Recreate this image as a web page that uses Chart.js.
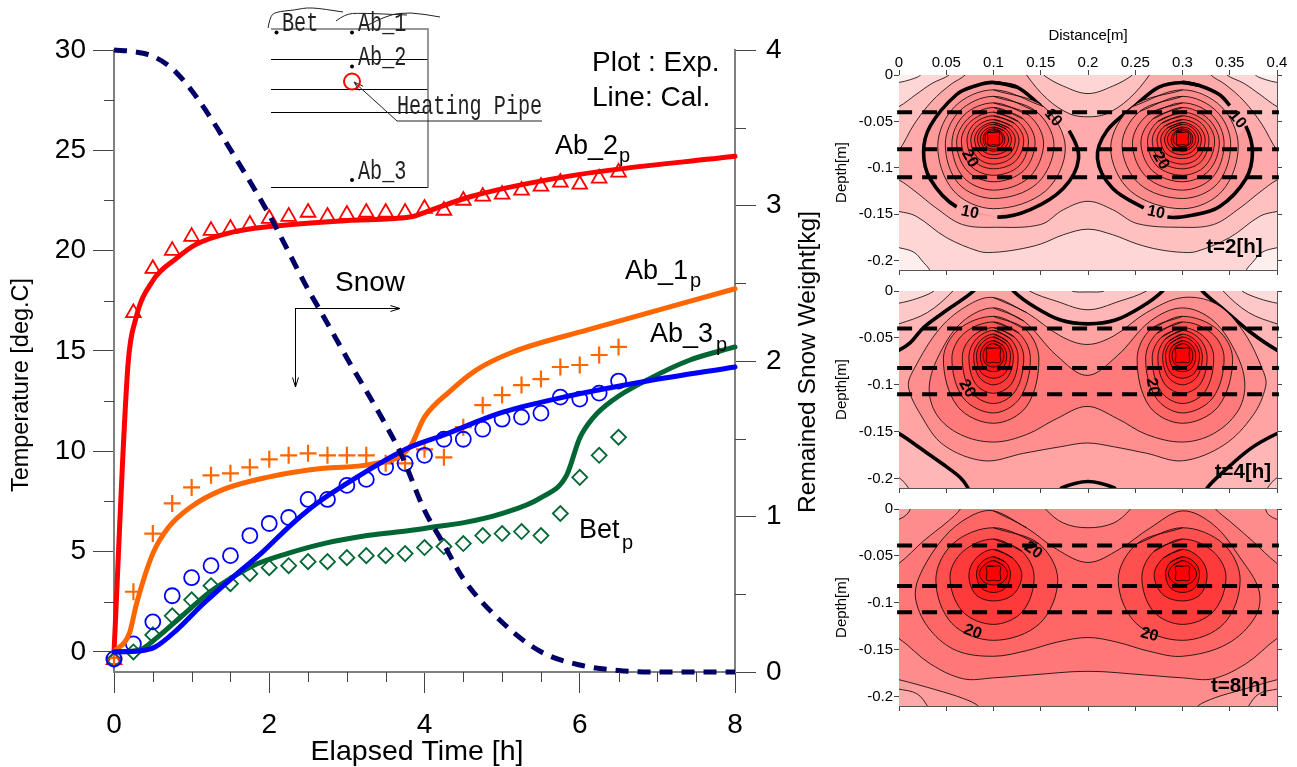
<!DOCTYPE html>
<html>
<head>
<meta charset="utf-8">
<script src="https://cdn.jsdelivr.net/npm/chart.js@4/dist/chart.umd.js"></script>
<style>
html, body { margin: 0; background: #fff; overflow: hidden; }
canvas { position: absolute; }
</style>
</head>
<body>
<canvas id="main" width="830" height="767" style="left:0;top:0"></canvas>
<canvas id="t2" width="467" height="260" style="left:830px;top:20px"></canvas>
<canvas id="t4" width="467" height="217" style="left:830px;top:281px"></canvas>
<canvas id="t8" width="467" height="217" style="left:830px;top:499px"></canvas>
<script>
// left chart
const expHours = [0, .25, .5, .75, 1, 1.25, 1.5, 1.75, 2, 2.25, 2.5, 2.75, 3, 3.25, 3.5, 3.75, 4, 4.25, 4.5, 4.75, 5, 5.25, 5.5, 5.75, 6, 6.25, 6.5];
const ab2Exp = [-.4, 16.9, 19.1, 20, 20.7, 21, 21.1, 21.3, 21.6, 21.7, 21.9, 21.7, 21.8, 21.9, 21.9, 21.9, 22.1, 22, 22.5, 22.7, 22.8, 23, 23.2, 23.4, 23.3, 23.6, 23.9];
const ab1Exp = [-.3, 3, 5.9, 7.4, 8.2, 8.8, 8.9, 9.2, 9.6, 9.8, 9.9, 9.8, 9.8, 9.8, 9.4, 9.4, 10.1, 9.7, 11.2, 12.3, 12.8, 13.3, 13.6, 14.2, 14.3, 14.8, 15.2];
const ab3Exp = [-.35, .4, 1.5, 2.8, 3.7, 4.3, 4.8, 5.8, 6.4, 6.7, 7.6, 7.6, 8.3, 8.6, 9.2, 9.4, 9.8, 10.6, 10.6, 11.1, 11.6, 11.7, 11.9, 12.7, 12.6, 12.9, 13.5];
const betExp = [-.4, 0, .85, 1.8, 2.6, 3.3, 3.4, 3.9, 4.2, 4.3, 4.5, 4.5, 4.7, 4.8, 4.8, 4.9, 5.2, 5.25, 5.4, 5.8, 5.9, 6, 5.8, 6.9, 8.7, 9.8, 10.7];

const ab2CalHours = [0, .18, .28, .5, .8, 1.05, 1.5, 2, 3, 3.85, 4, 4.6, 6, 8];
const ab2Cal = [0, 14.3, 16.6, 18.5, 19.6, 20.3, 20.9, 21.2, 21.5, 21.7, 21.9, 22.7, 23.8, 24.7];
const ab1CalHours = [0, .2, .29, .5, .7, .98, 1.41, 1.97, 2.7, 3.34, 3.81, 4, 4.33, 4.67, 5.14, 6.1, 8];
const ab1Cal = [0, .95, 2.4, 4.9, 6.2, 7.2, 8.1, 8.7, 9.15, 9.37, 10.2, 11.7, 13, 14.06, 14.95, 16.05, 18.1];
const ab3CalHours = [0, .33, .53, .81, 1.15, 1.54, 1.92, 2.27, 2.61, 3, 3.47, 3.81, 4.24, 4.97, 5.75, 6.87, 8];
const ab3Cal = [0, .05, .25, 1.1, 2.4, 3.75, 5, 6.3, 7.4, 8.4, 9.5, 10.2, 10.8, 11.9, 12.66, 13.5, 14.2];
const betCalHours = [0, .33, .55, .89, 1.24, 1.54, 1.79, 2.23, 2.7, 3.26, 3.81, 4.16, 4.54, 4.97, 5.49, 5.83, 6, 6.17, 6.43, 6.87, 7.42, 8];
const betCal = [0, .1, .7, 1.84, 3, 3.75, 4.3, 4.9, 5.4, 5.8, 6.05, 6.25, 6.47, 6.87, 7.67, 8.8, 10.66, 11.66, 12.56, 13.56, 14.55, 15.2];
const snowHours = [0, .25, .5, .75, 1, 1.25, 1.5, 2, 2.5, 2.65, 3, 3.5, 3.7, 4, 4.25, 4.5, 5, 5.5, 6, 6.5, 7, 8];
const snowKg = [4, 3.99, 3.96, 3.88, 3.74, 3.56, 3.36, 2.94, 2.46, 2.33, 2.02, 1.59, 1.4, 1.04, .82, .6, .32, .13, .045, .01, 0, 0];

const hourTicks = [0, 2, 4, 6, 8];
const hourMinor = [.5, 1, 1.5, 2.5, 3, 3.5, 4.5, 5, 5.5, 6.5, 7, 7.5];
const tempTicks = [0, 5, 10, 15, 20, 25, 30];
const tempMinor = [2.5, 7.5, 12.5, 17.5, 22.5, 27.5];
const kgTicks = [0, 1, 2, 3, 4];
const kgMinor = [.5, 1.5, 2.5, 3.5];

// contour plots: every contour is a flat list x, depth, x, depth ... in mm
const distanceTicks = [0, .05, .1, .15, .2, .25, .3, .35, .4];
const depthTicks = [0, -.05, -.1, -.15, -.2];
const sensorDepths = [[.04, .08, .11], [.04, .082, .11], [.039, .082, .11]];

const t2Bands = [
  [[-5,186, 0,186, 16,191, 26,202, 32,209, 34,215, 366,215, 368,209, 374,202, 384,191, 400,186, 405,186, 405,8, 400,8, 388,5, 377,0, 377,-5, 23,-5, 23,0, 12,5, 0,8, -5,8]],
  [[-5,147, 0,147, 18,152, 50,175, 85,190, 100,191, 125,188, 150,182, 174,172, 200,166, 226,172, 252,182, 275,188, 300,191, 315,190, 350,175, 382,152, 400,147, 405,147, 405,34, 400,34, 382,21, 365,9, 347,0, 347,-5, 247,-5, 247,0, 226,12, 200,20, 174,12, 153,0, 153,-5, 53,-5, 53,0, 35,9, 18,21, 0,34, -5,34]],
  [[-5,81, 0,81, 16,53, 35,28, 55,10, 70,0, 70,-5, 135,-5, 135,0, 157,26, 181,42, 200,45, 219,42, 243,26, 265,0, 265,-5, 330,-5, 330,0, 345,10, 365,28, 384,53, 400,81, 405,81, 405,113, 400,113, 382,126, 361,143, 333,161, 298,164, 252,160, 226,145, 200,136, 174,145, 150,161, 102,164, 67,161, 39,143, 18,126, 0,113, -5,113]],
  [[100,8, 125,13, 150,33, 165,45, 180,60, 190,90, 174,122, 139,145, 104,153, 61,142, 33,112, 26,83, 33,55, 61,21, 83,11],
   [300,8, 317,11, 339,21, 350,33, 367,55, 374,83, 367,112, 339,142, 310,151, 284,153, 259,143, 226,122, 210,90, 220,60, 250,33, 275,13]],
  [[100,16, 153,34, 176,78, 155,125, 100,144, 58,125, 41,76, 59,34], [300,16, 247,34, 224,78, 245,125, 300,144, 342,125, 359,76, 341,34]],
  [[100,23, 145,39, 164,75, 146,117, 100,133, 63,117, 49,74, 64,39], [300,23, 255,39, 236,75, 254,117, 300,133, 337,117, 351,74, 336,39]],
  [[100,30, 137,43, 153,73, 138,110, 100,124, 68,110, 56,73, 69,43], [300,30, 263,43, 247,73, 262,110, 300,124, 332,110, 344,73, 331,43]],
  [[100,35, 131,47, 144,72, 132,103, 100,115, 72,103, 61,72, 73,47], [300,35, 269,47, 256,72, 268,103, 300,115, 328,103, 339,72, 327,47]],
  [[100,40, 126,50, 137,71, 127,98, 100,108, 76,98, 66,71, 76,50], [300,40, 274,50, 263,71, 273,98, 300,108, 324,98, 334,71, 324,50]],
  [[100,44, 122,52, 132,70, 123,93, 100,101, 80,93, 72,70, 80,52], [300,44, 278,52, 268,70, 277,93, 300,101, 320,93, 328,70, 320,52]],
  [[100,48, 119,55, 127,70, 119,89, 100,96, 83,89, 76,70, 83,55], [300,48, 281,55, 273,70, 281,89, 300,96, 317,89, 324,70, 317,55]],
  [[100,51, 116,57, 123,69, 117,85, 100,90, 86,85, 80,69, 86,57], [300,51, 284,57, 277,69, 283,85, 300,90, 314,85, 320,69, 314,57]],
  [[100,53, 113,58, 119,69, 114,81, 100,86, 88,81, 83,69, 88,58], [300,53, 287,58, 281,69, 286,81, 300,86, 312,81, 317,69, 312,58]],
  [[100,56, 111,60, 116,69, 112,78, 100,82, 90,78, 86,69, 90,60], [300,56, 289,60, 284,69, 288,78, 300,82, 310,78, 314,69, 310,60]],
  [[100,58, 108,61, 112,69, 109,77, 100,80, 92,77, 89,69, 92,61], [300,58, 292,61, 288,69, 291,77, 300,80, 308,77, 311,69, 308,61]],
  [[100,60, 107,62, 110,69, 107,75, 100,77, 93,75, 91,69, 93,62], [300,60, 293,62, 290,69, 293,75, 300,77, 307,75, 309,69, 307,62]],
  [[94,62, 100,62, 106,62, 106,69, 106,75, 100,75, 94,75, 94,69], [294,62, 300,62, 306,62, 306,69, 306,75, 300,75, 294,75, 294,69]]
];
const t2Shades = ['#ffd6d6', '#ffc0c0', '#ffabab', '#ff9a9a', '#ff8c8c', '#ff8080', '#ff7474', '#ff6868', '#ff5c5c', '#ff5050', '#ff4444', '#ff3838', '#ff2c2c', '#ff2020', '#ff1414', '#ff0a0a', '#ff0000'];
const t2Back = '#ffeeee';
const t2Bold = [3];
const t2Gaps = { 3: [[2, 3, 8], [3, 9]] };
const t2Labels = [['10', 163, 46, 50], ['10', 75, 148, 12], ['10', 358, 48, 50], ['10', 272, 148, 12], ['20', 75, 90, 60], ['20', 277, 92, 60]];
const t2Time = ['t=2[h]', 355, 186];

const t4Bands = [
  [[-5,13, 0,13, 19,8, 37,0, 37,-5, 183,-5, 183,0, 200,1, 217,0, 217,-5, 363,-5, 363,0, 381,8, 400,13, 405,13, 405,215, -5,215]],
  [[-5,35, 0,35, 30,23, 57,0, 57,-5, 138,-5, 138,0, 167,11, 200,20, 233,11, 262,0, 262,-5, 343,-5, 343,0, 370,23, 400,35, 405,35, 405,199, 400,199, 390,210, 390,215, 10,215, 10,210, 0,199, -5,199]],
  [[-5,63, 0,63, 12,55, 26,39, 47,23, 79,0, 79,-5, 121,-5, 121,0, 142,16, 171,31, 200,35, 229,31, 258,16, 279,0, 279,-5, 321,-5, 321,0, 344,20, 372,44, 400,63, 405,63, 405,152, 400,152, 372,168, 344,192, 326,210, 326,215, 228,215, 228,210, 200,203, 172,210, 172,215, 73,215, 73,210, 65,199, 47,185, 23,168, 0,152, -5,152]],
  [[100,7, 135,23, 171,48, 199,57, 227,48, 262,23, 300,7, 336,14, 365,44, 386,87, 388,102, 375,132, 344,164, 300,181, 262,173, 227,166, 199,162, 171,166, 132,173, 90,181, 47,164, 23,132, 10,102, 16,83, 44,39, 75,14]],
  [[100,18, 132,32, 167,69, 199,90, 231,69, 266,32, 300,18, 333,32, 358,69, 366,101, 358,129, 333,152, 300,161, 262,153, 231,136, 199,123, 167,136, 135,153, 100,161, 65,153, 40,132, 32,102, 44,65, 68,32]],
  [[100,27, 134,41, 148,72, 135,123, 100,141, 62,123, 47,72, 63,41], [300,27, 266,41, 252,72, 265,123, 300,141, 338,123, 353,72, 337,41]],
  [[100,33, 127,45, 139,71, 128,114, 100,130, 68,114, 56,71, 69,45], [300,33, 273,45, 261,71, 272,114, 300,130, 332,114, 344,71, 331,45]],
  [[100,39, 122,49, 132,70, 123,107, 100,120, 76,107, 67,70, 77,49], [300,39, 278,49, 268,70, 277,107, 300,120, 324,107, 333,70, 323,49]],
  [[100,42, 118,51, 126,70, 119,99, 100,109, 81,99, 74,70, 82,51], [300,42, 282,51, 274,70, 281,99, 300,109, 319,99, 326,70, 318,51]],
  [[100,46, 115,54, 121,70, 115,92, 100,100, 85,92, 79,70, 85,54], [300,46, 285,54, 279,70, 285,92, 300,100, 315,92, 321,70, 315,54]],
  [[100,49, 113,56, 118,69, 113,87, 100,93, 87,87, 82,69, 87,56], [300,49, 287,56, 282,69, 287,87, 300,93, 313,87, 318,69, 313,56]],
  [[100,53, 110,58, 114,69, 110,82, 100,86, 90,82, 86,69, 90,58], [300,53, 290,58, 286,69, 290,82, 300,86, 310,82, 314,69, 310,58]],
  [[100,56, 108,60, 111,69, 108,78, 100,81, 92,78, 89,69, 92,60], [300,56, 292,60, 289,69, 292,78, 300,81, 308,78, 311,69, 308,60]],
  [[93,61, 100,61, 107,61, 107,68, 107,76, 100,76, 93,76, 93,68], [293,61, 300,61, 307,61, 307,68, 307,76, 300,76, 293,76, 293,68]]
];
const t4Shades = ['#ffc8c8', '#ffb6b6', '#ffa3a3', '#ff8e8e', '#ff7a7a', '#ff6666', '#ff5656', '#ff4848', '#ff3a3a', '#ff2c2c', '#ff1e1e', '#ff1010', '#ff0606', '#ff0000'];
const t4Back = '#ffdcdc';
const t4Bold = [2];
const t4Gaps = {};
const t4Labels = [['20', 72, 104, 60], ['20', 268, 102, 80]];
const t4Time = ['t=4[h]', 364, 193];

const t8Bands = [
  [[-5,192, 0,192, 19,197, 30,210, 30,215, 370,215, 370,210, 381,197, 400,192, 405,192, 405,-5, -5,-5]],
  [[-5,182, 0,182, 40,193, 68,202, 84,210, 84,215, 316,215, 316,210, 335,201, 362,193, 400,182, 405,182, 405,11, 400,11, 391,6, 388,0, 388,-5, 12,-5, 12,0, 8,6, 0,11, -5,11]],
  [[-5,58, 0,58, 26,34, 52,13, 65,0, 65,-5, 155,-5, 155,0, 174,15, 200,20, 227,15, 245,0, 245,-5, 335,-5, 335,0, 350,13, 374,34, 400,58, 405,58, 405,138, 400,138, 367,165, 332,181, 300,180, 261,177, 200,173, 139,177, 100,180, 68,181, 33,165, 0,138, -5,138]],
  [[100,2, 135,20, 167,43, 200,57, 233,43, 266,20, 300,2, 333,17, 361,52, 381,87, 377,115, 347,144, 300,157, 266,152, 231,142, 200,137, 167,142, 135,151, 100,157, 61,151, 33,129, 18,98, 21,73, 47,31, 75,8]],
  [[100,20, 148,37, 168,75, 149,122, 100,140, 56,122, 39,75, 57,37], [300,20, 252,37, 232,75, 251,122, 300,140, 344,122, 361,75, 343,37]],
  [[100,32, 130,45, 143,72, 131,109, 100,123, 67,109, 54,72, 68,45], [300,32, 270,45, 257,72, 269,109, 300,123, 333,109, 346,72, 332,45]],
  [[100,43, 120,52, 130,70, 121,91, 100,98, 81,91, 74,70, 82,52], [300,43, 280,52, 270,70, 279,91, 300,98, 319,91, 326,70, 318,52]],
  [[100,51, 113,57, 118,69, 113,84, 100,89, 87,84, 82,69, 87,57], [300,51, 287,57, 282,69, 287,84, 300,89, 313,84, 318,69, 313,57]],
  [[100,55, 110,60, 115,69, 110,78, 100,81, 90,78, 85,69, 90,60], [300,55, 290,60, 285,69, 290,78, 300,81, 310,78, 315,69, 310,60]],
  [[93,61, 100,61, 107,61, 107,68, 107,76, 100,76, 93,76, 93,68], [293,61, 300,61, 307,61, 307,68, 307,76, 300,76, 293,76, 293,68]]
];
const t8Shades = ['#ff9e9e', '#ff8c8c', '#ff7878', '#ff6666', '#ff5050', '#ff3a3a', '#ff2020', '#ff0c0c', '#ff0404', '#ff0000'];
const t8Back = '#ffaaaa';
const t8Bold = [];
const t8Gaps = {};
const t8Labels = [['20', 142, 44, 35], ['20', 78, 131, 20], ['20', 265, 134, 15]];
const t8Time = ['t=8[h]', 360, 189];

Chart.defaults.font.family = "'Liberation Sans', Arial, sans-serif";
Chart.defaults.color = '#000';
Chart.defaults.animation = false;

const zip = (xs, ys) => xs.map((x, i) => ({ x, y: ys[i] }));

function setTicks(values) {
  return axis => { axis.ticks = values.map(value => ({ value })); };
}

function drawNote(ctx, text, x, y, o = {}) {
  ctx.save();
  ctx.translate(x, y);
  if (o.rot) ctx.rotate(o.rot * Math.PI / 180);
  if (o.sx) ctx.scale(o.sx, 1);
  ctx.font = (o.weight || '') + ' ' + (o.size || 27) + 'px ' + (o.family || "'Liberation Sans'");
  ctx.fillStyle = o.color || '#000';
  ctx.textAlign = o.align || 'left';
  ctx.textBaseline = 'middle';
  ctx.fillText(text, 0, 0);
  ctx.restore();
}

function drawArrow(ctx, x0, y0, x1, y1) {
  const a = Math.atan2(y1 - y0, x1 - x0);
  ctx.beginPath();
  ctx.moveTo(x0, y0);
  ctx.lineTo(x1, y1);
  ctx.moveTo(x1 - 10 * Math.cos(a - .3), y1 - 10 * Math.sin(a - .3));
  ctx.lineTo(x1, y1);
  ctx.lineTo(x1 - 10 * Math.cos(a + .3), y1 - 10 * Math.sin(a + .3));
  ctx.stroke();
}

function drawFreehand(ctx, pts) {
  ctx.beginPath();
  ctx.moveTo(pts[0][0], pts[0][1]);
  for (let i = 1; i < pts.length - 1; i++) {
    ctx.quadraticCurveTo(pts[i][0], pts[i][1], (pts[i][0] + pts[i + 1][0]) / 2, (pts[i][1] + pts[i + 1][1]) / 2);
  }
  ctx.lineTo(pts[pts.length - 1][0], pts[pts.length - 1][1]);
  ctx.stroke();
}

// shorter ticks between the labelled ones, the scale option can only do one length
const minorTicks = {
  id: 'minorTicks',
  afterDraw(chart) {
    const ctx = chart.ctx;
    const a = chart.chartArea;
    ctx.save();
    ctx.strokeStyle = '#444';
    ctx.lineWidth = 1;
    ctx.beginPath();
    for (const v of hourMinor) {
      const x = Math.round(chart.scales.x.getPixelForValue(v)) + .5;
      ctx.moveTo(x, a.bottom);
      ctx.lineTo(x, a.bottom + 10);
    }
    for (const v of tempMinor) {
      const y = Math.round(chart.scales.y.getPixelForValue(v)) + .5;
      ctx.moveTo(a.left, y);
      ctx.lineTo(a.left - 10, y);
    }
    for (const v of kgMinor) {
      const y = Math.round(chart.scales.kg.getPixelForValue(v)) + .5;
      ctx.moveTo(a.right, y);
      ctx.lineTo(a.right + 11, y);
    }
    ctx.stroke();
    ctx.restore();
  }
};

// pipe sketch and the free text of the left chart
const mainNotes = {
  id: 'mainNotes',
  afterDraw(chart) {
    const ctx = chart.ctx;
    ctx.save();
    ctx.strokeStyle = '#000';
    ctx.lineWidth = 1;
    ctx.beginPath();
    for (const y of [59.5, 89.5, 112.5, 187.5]) {
      ctx.moveTo(271, y);
      ctx.lineTo(428, y);
    }
    ctx.stroke();
    ctx.strokeStyle = '#777';
    ctx.lineWidth = 1.5;
    ctx.beginPath();
    ctx.moveTo(271, 29);
    ctx.lineTo(428, 29);
    ctx.lineTo(428, 188);
    ctx.stroke();
    ctx.strokeStyle = '#222';
    ctx.lineWidth = 1;
    drawFreehand(ctx, [[268, 28], [270, 17], [275, 12], [295, 10], [310, 7], [343, 12]]);
    drawFreehand(ctx, [[336, 21], [345, 14], [360, 13], [407, 15]]);
    drawFreehand(ctx, [[368, 25], [387, 15], [410, 12], [440, 17]]);
    ctx.beginPath();
    ctx.moveTo(542, 121);
    ctx.lineTo(397, 121);
    ctx.stroke();
    drawArrow(ctx, 397, 121, 354, 82);
    ctx.strokeStyle = '#f00';
    ctx.lineWidth = 2;
    ctx.beginPath();
    ctx.arc(352, 81.5, 8, 0, Math.PI * 2);
    ctx.stroke();
    ctx.fillStyle = '#000';
    for (const [x, y] of [[276.5, 32.5], [352, 32.5], [352, 66.5], [352, 180]]) {
      ctx.beginPath();
      ctx.arc(x, y, 2, 0, Math.PI * 2);
      ctx.fill();
    }
    const sketch = { size: 28, sx: .72, family: "'Liberation Mono'", color: '#222' };
    drawNote(ctx, 'Bet', 282, 24, sketch);
    drawNote(ctx, 'Ab_1', 358, 24, sketch);
    drawNote(ctx, 'Ab_2', 358, 58, sketch);
    drawNote(ctx, 'Ab_3', 358, 172, sketch);
    drawNote(ctx, 'Heating Pipe', 397, 107, sketch);

    ctx.strokeStyle = '#000';
    ctx.lineWidth = 1;
    drawArrow(ctx, 295, 308.5, 400, 308.5);
    drawArrow(ctx, 295.5, 308, 295.5, 387);
    drawNote(ctx, 'Snow', 335, 283, { size: 28 });
    drawNote(ctx, 'Plot : Exp.', 592, 63, { size: 28 });
    drawNote(ctx, 'Line: Cal.', 592, 98, { size: 28 });
    drawNote(ctx, 'Ab_2', 555, 147);
    drawNote(ctx, 'p', 619, 156, { size: 20 });
    drawNote(ctx, 'Ab_1', 625, 272);
    drawNote(ctx, 'p', 690, 281, { size: 20 });
    drawNote(ctx, 'Ab_3', 650, 335);
    drawNote(ctx, 'p', 716, 345, { size: 20 });
    drawNote(ctx, 'Bet', 579, 531);
    drawNote(ctx, 'p', 622, 543, { size: 20 });
    drawNote(ctx, 'Temperature [deg.C]', 22, 385, { size: 23.5, rot: -90, align: 'center' });
    drawNote(ctx, 'Remained Snow Weight[kg]', 808, 362, { size: 24.5, rot: -90, align: 'center' });
    drawNote(ctx, 'Elapsed Time [h]', 417, 752, { size: 28.5, align: 'center' });
    ctx.restore();
  }
};

const marker = (style, color, radius, width) => ({
  showLine: false, pointStyle: style, pointRadius: radius, pointBorderColor: color,
  pointBackgroundColor: 'rgba(0,0,0,0)', pointBorderWidth: width, borderColor: color, clip: false
});
const curve = (color) => ({
  borderColor: color, borderWidth: 5, pointRadius: 0, cubicInterpolationMode: 'monotone',
  borderCapStyle: 'round', clip: false
});

new Chart(document.getElementById('main'), {
  type: 'line',
  data: {
    datasets: [
      { label: 'Snow', data: zip(snowHours, snowKg), yAxisID: 'kg', ...curve('#000066'), borderDash: [13, 9], borderCapStyle: 'butt' },
      { label: 'Ab_3 cal', data: zip(ab3CalHours, ab3Cal), ...curve('#0000ff') },
      { label: 'Bet cal', data: zip(betCalHours, betCal), ...curve('#006633') },
      { label: 'Ab_1 cal', data: zip(ab1CalHours, ab1Cal), ...curve('#ff6600') },
      { label: 'Ab_2 cal', data: zip(ab2CalHours, ab2Cal), ...curve('#ff0000') },
      { label: 'Ab_3 exp', data: zip(expHours, ab3Exp), ...marker('circle', '#0000ff', 7.5, 1.8) },
      { label: 'Bet exp', data: zip(expHours, betExp), ...marker('rectRot', '#006633', 7.5, 1.8) },
      { label: 'Ab_1 exp', data: zip(expHours, ab1Exp), ...marker('cross', '#ff6600', 8.5, 2.2) },
      { label: 'Ab_2 exp', data: zip(expHours, ab2Exp), ...marker('triangle', '#ff0000', 8.5, 1.8) }
    ]
  },
  options: {
    responsive: false,
    layout: { padding: { top: 50 } },
    plugins: { legend: { display: false }, tooltip: { enabled: false } },
    scales: {
      x: {
        type: 'linear', min: 0, max: 8, afterBuildTicks: setTicks(hourTicks),
        afterFit: s => { s.height = 95; },
        grid: { drawOnChartArea: false, tickLength: 21, tickColor: '#444' },
        border: { color: '#808080', width: 2 },
        ticks: { font: { size: 28 }, padding: 15, maxRotation: 0, autoSkip: false }
      },
      y: {
        min: -1, max: 30, afterBuildTicks: setTicks(tempTicks),
        afterFit: s => { s.width = 114; },
        grid: { drawOnChartArea: false, tickLength: 21, tickColor: '#444' },
        border: { color: '#808080', width: 2 },
        ticks: { font: { size: 28 }, padding: 7, autoSkip: false }
      },
      kg: {
        position: 'right', min: 0, max: 4, afterBuildTicks: setTicks(kgTicks),
        afterFit: s => { s.width = 95; },
        grid: { drawOnChartArea: false, tickLength: 21, tickColor: '#444' },
        border: { color: '#808080', width: 2 },
        ticks: { font: { size: 28 }, padding: 10, autoSkip: false }
      }
    }
  },
  plugins: [minorTicks, mainNotes]
});

// closing a contour with its first two points keeps the curve smooth where it joins
function contourPoints(flat) {
  const out = [];
  for (let i = 0; i < flat.length; i += 2) out.push({ x: flat[i] / 1000, y: -flat[i + 1] / 1000 });
  out.push(out[0], out[1]);
  return out;
}

function drawContourPanel(id, bands, shades, back, bold, gaps, labels, time, sensors, showTop) {
  const datasets = [];
  bands.forEach((band, b) => {
    band.forEach((flat, c) => {
      const hidden = gaps[b] ? gaps[b][c] : [];
      datasets.push({
        data: contourPoints(flat), fill: 'shape', backgroundColor: shades[b], borderColor: '#000',
        borderWidth: bold.includes(b) ? 3.6 : .8, tension: .35, pointRadius: 0, capBezierPoints: false,
        segment: { borderColor: ctx => hidden.includes(ctx.p0DataIndex) ? 'rgba(0,0,0,0)' : undefined }
      });
    });
  });
  const count = datasets.length;
  datasets.forEach((d, i) => { d.order = count - i + 10; });
  sensors.forEach(depth => {
    datasets.push({
      data: [{ x: -.002, y: -depth }, { x: .402, y: -depth }], borderColor: '#000', borderWidth: 4,
      borderDash: [15, 10], pointRadius: 0, clip: false, order: 0, fill: false
    });
  });

  const panelNotes = {
    id: 'panelNotes',
    beforeDatasetsDraw(chart) {
      const a = chart.chartArea;
      chart.ctx.fillStyle = back;
      chart.ctx.fillRect(a.left, a.top, a.right - a.left, a.bottom - a.top);
    },
    afterDraw(chart) {
      const ctx = chart.ctx;
      const px = v => chart.scales.x.getPixelForValue(v / 1000);
      const py = v => chart.scales.y.getPixelForValue(-v / 1000);
      labels.forEach(([text, x, d, rot]) => {
        drawNote(ctx, text, px(x), py(d), { size: 16, weight: 'bold', rot, align: 'center' });
      });
      drawNote(ctx, time[0], px(time[1]), py(time[2]), { size: 20.5, weight: 'bold', align: 'center' });
    }
  };

  const axisFont = { size: 15 };
  const line = { color: '#555', width: 1 };
  const grid = { drawOnChartArea: false, tickLength: 5, tickColor: '#444' };
  const scales = {
    x: {
      type: 'linear', min: 0, max: .4, afterBuildTicks: setTicks(distanceTicks),
      afterFit: s => { s.height = 8; }, grid, border: line, ticks: { display: false, autoSkip: false }
    },
    y: {
      min: -.21, max: 0, afterBuildTicks: setTicks(depthTicks),
      afterFit: s => { s.width = 69; }, grid, border: line,
      ticks: { font: axisFont, padding: 1, autoSkip: false, callback: v => String(v) },
      title: { display: true, text: 'Depth[m]', font: axisFont, padding: { top: 3, bottom: 0 } }
    },
    yRight: {
      position: 'right', min: -.21, max: 0, afterBuildTicks: setTicks(depthTicks),
      afterFit: s => { s.width = 20; }, grid, border: line, ticks: { display: false, autoSkip: false }
    }
  };
  if (showTop) {
    scales.xTop = {
      position: 'top', type: 'linear', min: 0, max: .4, afterBuildTicks: setTicks(distanceTicks),
      afterFit: s => { s.height = 55; }, grid, border: line,
      ticks: { font: axisFont, padding: -2, maxRotation: 0, autoSkip: false, callback: v => String(v) },
      title: { display: true, text: 'Distance[m]', font: axisFont, padding: { top: 7, bottom: 0 } }
    };
  }
  new Chart(document.getElementById(id), {
    type: 'line',
    data: { datasets },
    options: {
      responsive: false,
      layout: { padding: { top: showTop ? 0 : 10 } },
      plugins: { legend: { display: false }, tooltip: { enabled: false } },
      scales
    },
    plugins: [panelNotes]
  });
}

drawContourPanel('t2', t2Bands, t2Shades, t2Back, t2Bold, t2Gaps, t2Labels, t2Time, sensorDepths[0], true);
drawContourPanel('t4', t4Bands, t4Shades, t4Back, t4Bold, t4Gaps, t4Labels, t4Time, sensorDepths[1], false);
drawContourPanel('t8', t8Bands, t8Shades, t8Back, t8Bold, t8Gaps, t8Labels, t8Time, sensorDepths[2], false);
</script>
</body>
</html>
